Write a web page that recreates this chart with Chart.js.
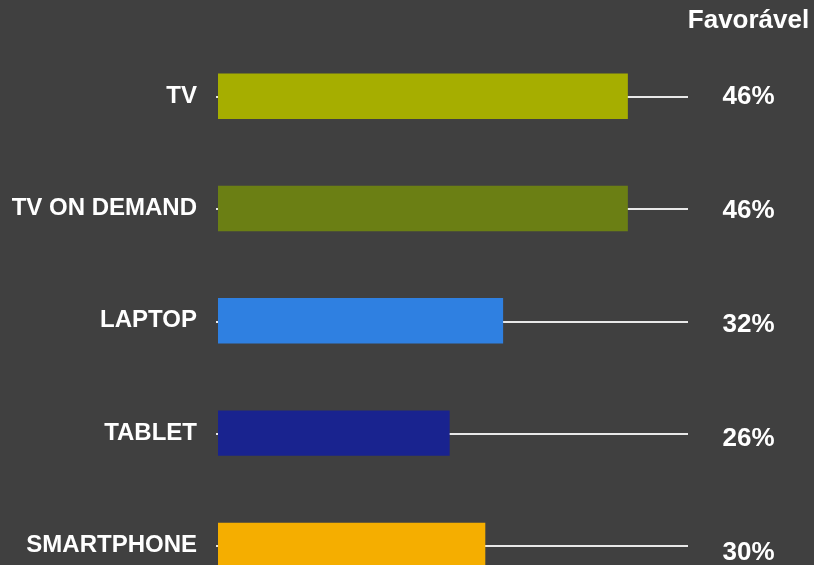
<!DOCTYPE html>
<html>
<head>
<meta charset="utf-8">
<script src="https://cdn.jsdelivr.net/npm/chart.js@4"></script>
<style>
    html, body { margin: 0; padding: 0; background: #404040; overflow: hidden; }
    #chart { display: block; }
</style>
</head>
<body>
<canvas id="chart" width="814" height="637"></canvas>
<script>
const categories = ['TV', 'TV ON DEMAND', 'LAPTOP', 'TABLET', 'SMARTPHONE'];
const favoravel = [46, 46, 32, 26, 30];
const valueLabels = ['46%', '46%', '32%', '26%', '30%'];
const barColors = ['#a6ae00', '#6b7f14', '#2f80e1', '#19238f', '#f5ae00'];
const headerText = 'Favorável';
const lineEnd = 52.75;

const FONT = '"Liberation Sans", Arial, sans-serif';

// white guide line behind each bar + value labels on the right
const extras = {
    id: 'extras',
    beforeDatasetsDraw: (chart) => {
        const ctx = chart.ctx;
        const x = chart.scales.x, y = chart.scales.y;
        ctx.save();
        ctx.strokeStyle = '#e8e8e8';
        ctx.lineWidth = 2;
        categories.forEach((c, i) => {
            const py = Math.round(y.getPixelForValue(i)) + 1;
            ctx.beginPath();
            ctx.moveTo(x.getPixelForValue(0) - 2, py);
            ctx.lineTo(x.getPixelForValue(lineEnd), py);
            ctx.stroke();
        });
        ctx.restore();
    },
    afterDraw: (chart) => {
        const ctx = chart.ctx;
        const y = chart.scales.y;
        ctx.save();
        ctx.fillStyle = '#ffffff';
        ctx.textAlign = 'center';
        ctx.textBaseline = 'alphabetic';
        ctx.font = 'bold 26px ' + FONT;
        ctx.fillText(headerText, 748.5, 28);
        valueLabels.forEach((t, i) => {
            ctx.fillText(t, 748.5, y.getPixelForValue(i) + 8 + i * 1.6);
        });
        ctx.restore();
    }
};

new Chart(document.getElementById('chart'), {
    type: 'bar',
    data: {
        labels: categories,
        datasets: [{
            data: favoravel,
            backgroundColor: barColors,
            borderWidth: 0,
            categoryPercentage: 1,
            barPercentage: 0.405
        }]
    },
    options: {
        indexAxis: 'y',
        responsive: false,
        animation: false,
        devicePixelRatio: 1,
        layout: { padding: { top: 40, bottom: 0, left: 0, right: 126 } },
        plugins: {
            legend: { display: false },
            tooltip: { enabled: false }
        },
        scales: {
            x: {
                display: false,
                min: 0,
                max: lineEnd
            },
            y: {
                afterFit: (scale) => { scale.width = 218; },
                grid: { display: false, drawTicks: false },
                border: { display: false },
                ticks: {
                    padding: 21,
                    color: '#ffffff',
                    font: { family: FONT, size: 24, weight: 'bold' }
                }
            }
        }
    },
    plugins: [extras]
});
</script>
</body>
</html>
